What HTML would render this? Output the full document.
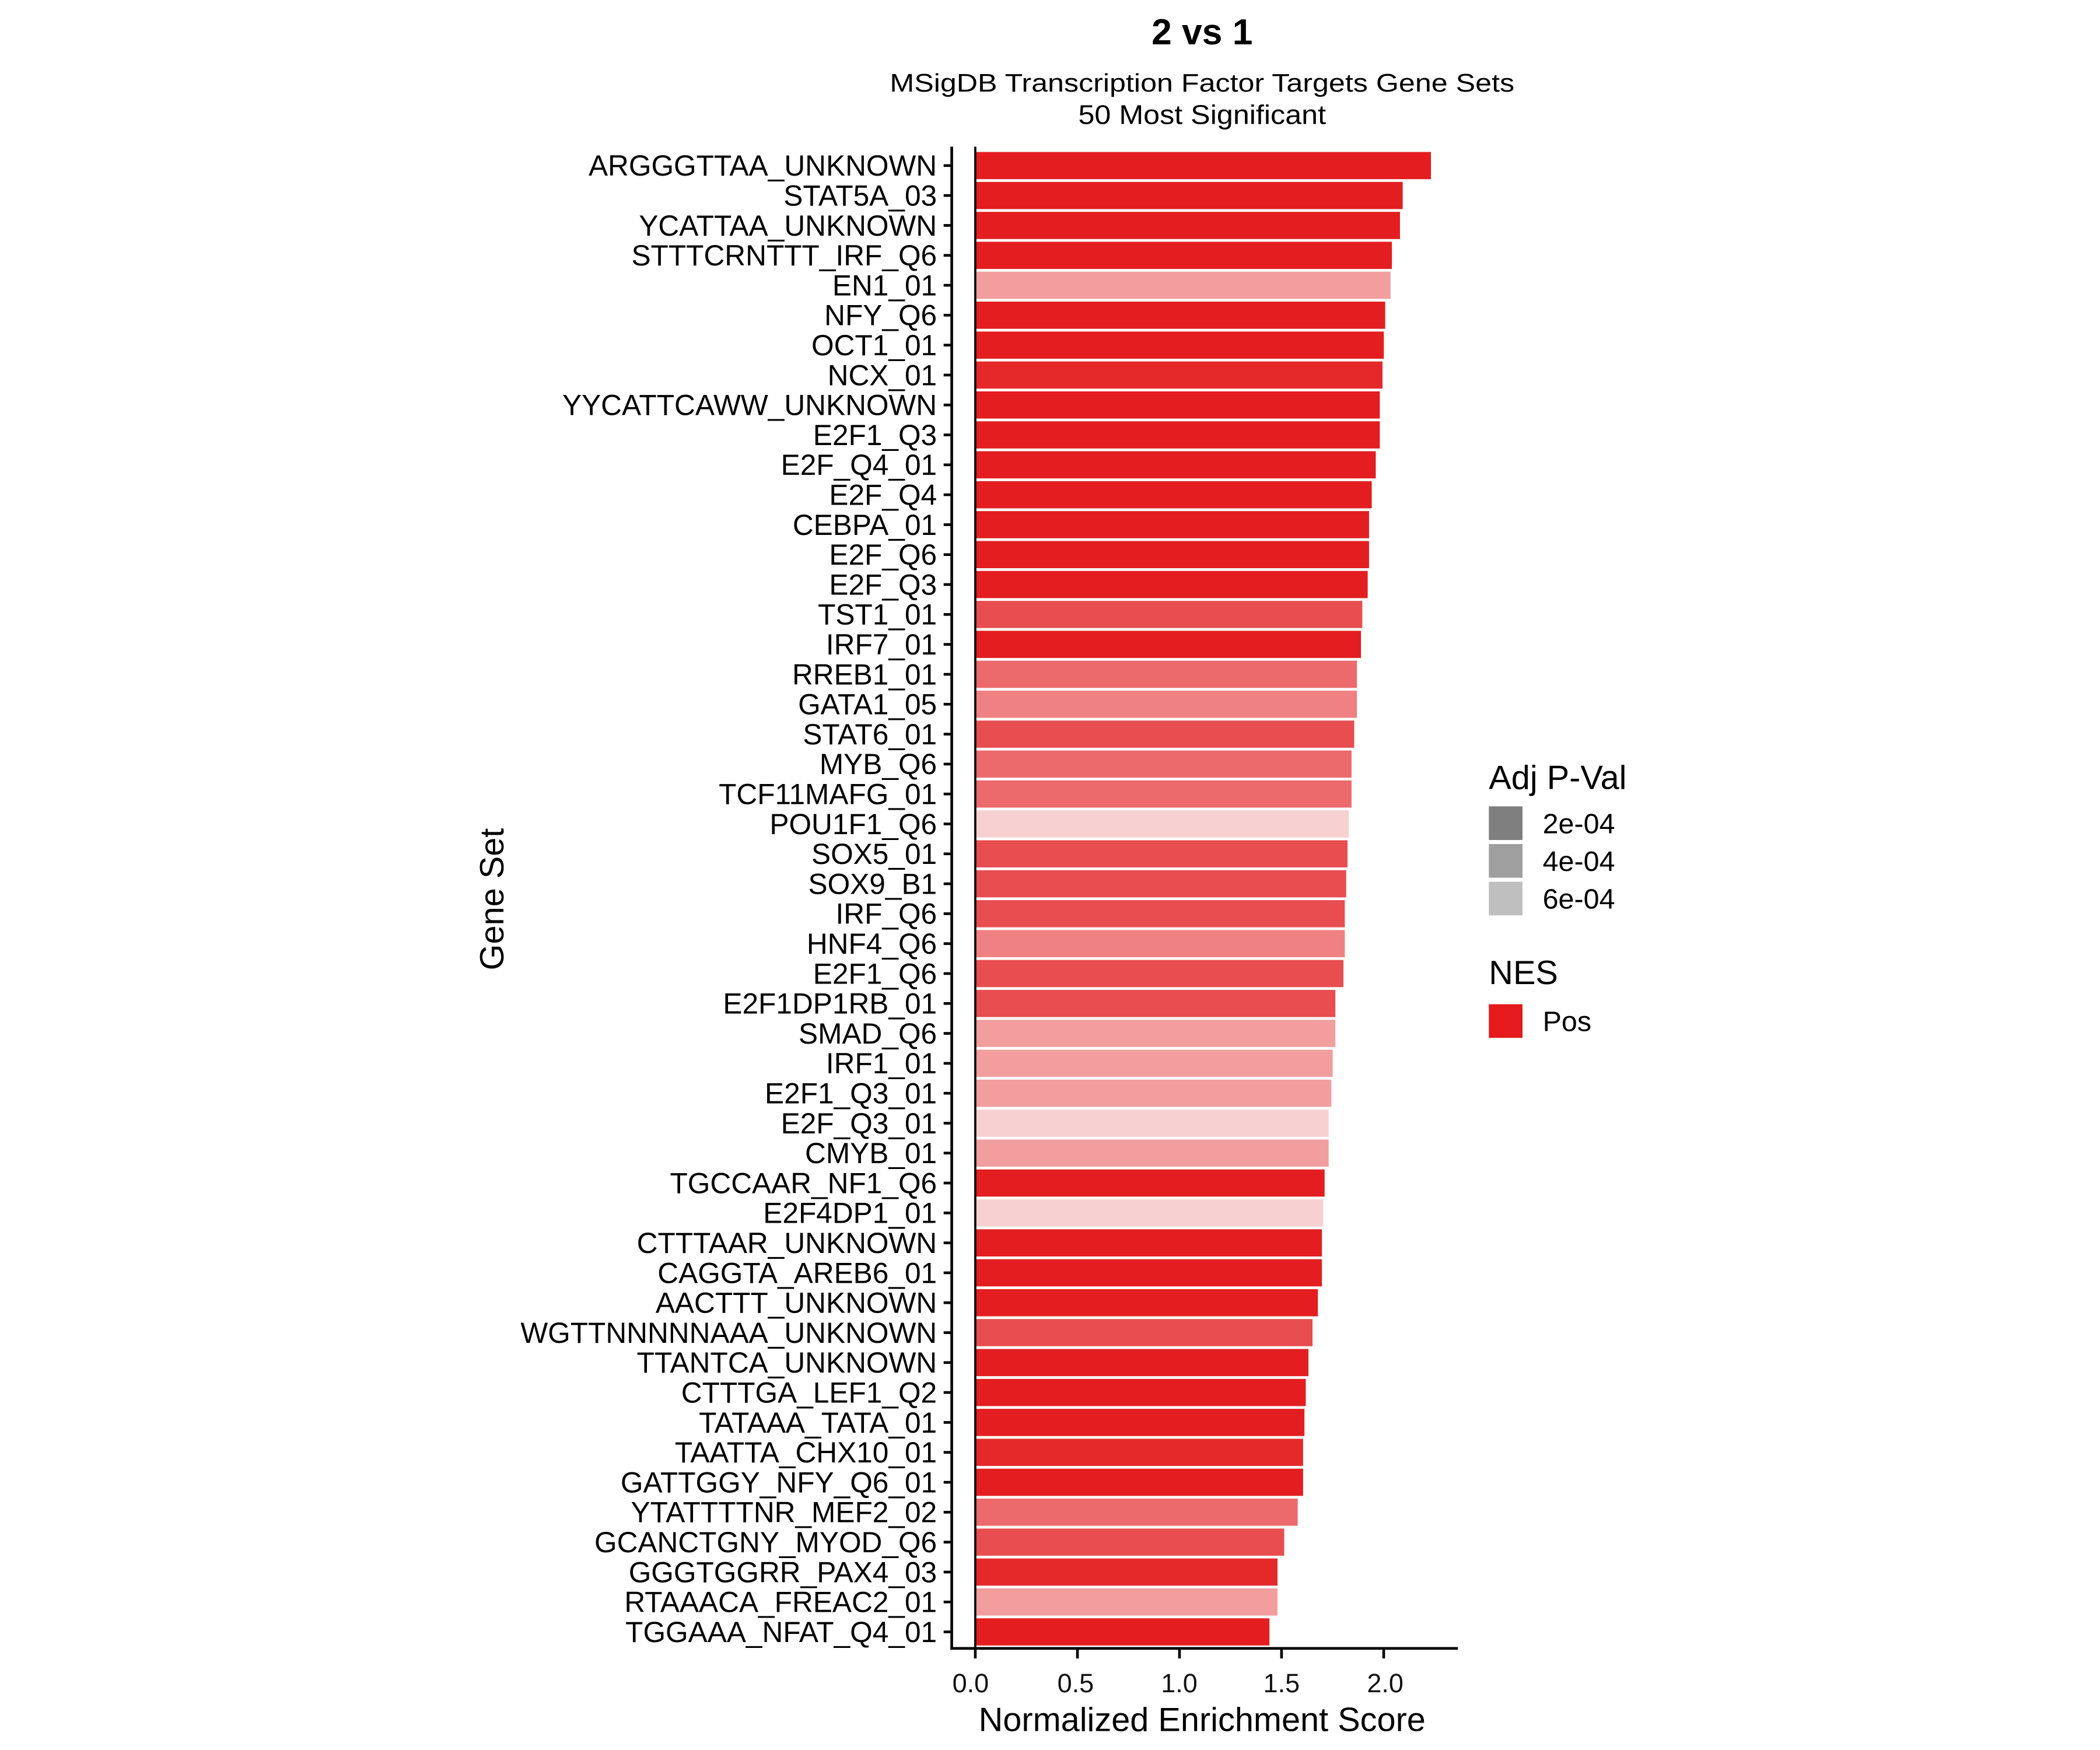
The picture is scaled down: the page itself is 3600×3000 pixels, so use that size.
<!DOCTYPE html>
<html><head><meta charset="utf-8"><style>html,body{margin:0;padding:0;background:#fff}svg{display:block}</style></head>
<body>
<svg xmlns="http://www.w3.org/2000/svg" width="3600" height="3000" viewBox="0 0 1560 1300" font-family="Liberation Sans, Arial, sans-serif">
<rect width="1560" height="1300" fill="#fff"/>
<text x="893" y="33" font-size="27" font-weight="bold" text-anchor="middle">2 vs 1</text>
<text x="893" y="68" font-size="19" text-anchor="middle" textLength="464" lengthAdjust="spacingAndGlyphs">MSigDB Transcription Factor Targets Gene Sets</text>
<text x="893" y="92" font-size="20" text-anchor="middle" textLength="184" lengthAdjust="spacingAndGlyphs">50 Most Significant</text>
<g id="bars"></g>
<line x1="707" y1="109" x2="707" y2="1225" stroke="#000" stroke-width="2"/>
<line x1="706" y1="1224.5" x2="1083" y2="1224.5" stroke="#000" stroke-width="2"/>
<line x1="724.5" y1="109" x2="724.5" y2="1224" stroke="#000" stroke-width="1.6"/>
<g id="lab" font-size="21.5" text-anchor="end"></g>
<g stroke="#000" stroke-width="2">
<line x1="724.5" y1="1225" x2="724.5" y2="1232"/><line x1="800.4" y1="1225" x2="800.4" y2="1232"/><line x1="876.2" y1="1225" x2="876.2" y2="1232"/><line x1="952" y1="1225" x2="952" y2="1232"/><line x1="1027.9" y1="1225" x2="1027.9" y2="1232"/>
</g>
<g font-size="19.5" text-anchor="middle" fill="#111">
<text x="721" y="1257">0.0</text><text x="799" y="1257">0.5</text><text x="876" y="1257">1.0</text><text x="952" y="1257">1.5</text><text x="1029" y="1257">2.0</text>
</g>
<text x="893" y="1286" font-size="25" text-anchor="middle">Normalized Enrichment Score</text>
<text transform="translate(374,668) rotate(-90)" font-size="25" text-anchor="middle">Gene Set</text>
<text x="1106" y="586" font-size="25">Adj P-Val</text>
<rect x="1106" y="599" width="25" height="25" fill="#7f7f7f"/>
<rect x="1106" y="627" width="25" height="25" fill="#9f9f9f"/>
<rect x="1106" y="655" width="25" height="25" fill="#bfbfbf"/>
<text x="1146" y="619" font-size="21">2e-04</text>
<text x="1146" y="647" font-size="21">4e-04</text>
<text x="1146" y="675" font-size="21">6e-04</text>
<text x="1106" y="731" font-size="25">NES</text>
<rect x="1106" y="746" width="25" height="25" fill="#e41a1c"/>
<text x="1146" y="766" font-size="21">Pos</text>
<script>
var d=[["ARGGGTTAA_UNKNOWN",1065,0],["STAT5A_03",1044,0],["YCATTAA_UNKNOWN",1042,0],["STTTCRNTTT_IRF_Q6",1036,0],["EN1_01",1035,5],["NFY_Q6",1031,0],["OCT1_01",1030,0],["NCX_01",1029,1],["YYCATTCAWW_UNKNOWN",1027,0],["E2F1_Q3",1027,0],["E2F_Q4_01",1024,0],["E2F_Q4",1021,0],["CEBPA_01",1019,0],["E2F_Q6",1019,0],["E2F_Q3",1018,0],["TST1_01",1014,2],["IRF7_01",1013,0],["RREB1_01",1010,3],["GATA1_05",1010,4],["STAT6_01",1008,2],["MYB_Q6",1006,3],["TCF11MAFG_01",1006,3],["POU1F1_Q6",1004,6],["SOX5_01",1003,2],["SOX9_B1",1002,2],["IRF_Q6",1001,2],["HNF4_Q6",1001,4],["E2F1_Q6",1000,2],["E2F1DP1RB_01",994,2],["SMAD_Q6",994,5],["IRF1_01",992,5],["E2F1_Q3_01",991,5],["E2F_Q3_01",989,6],["CMYB_01",989,5],["TGCCAAR_NF1_Q6",986,0],["E2F4DP1_01",985,6],["CTTTAAR_UNKNOWN",984,0],["CAGGTA_AREB6_01",984,0],["AACTTT_UNKNOWN",981,0],["WGTTNNNNNAAA_UNKNOWN",977,2],["TTANTCA_UNKNOWN",974,0],["CTTTGA_LEF1_Q2",972,0],["TATAAA_TATA_01",971,0],["TAATTA_CHX10_01",970,1],["GATTGGY_NFY_Q6_01",970,0],["YTATTTTNR_MEF2_02",966,3],["GCANCTGNY_MYOD_Q6",956,2],["GGGTGGRR_PAX4_03",951,1],["RTAAACA_FREAC2_01",951,5],["TGGAAA_NFAT_Q4_01",945,0]];
var c=["#e41e20","#e5292b","#e84e50","#ec6a6b","#ef8182","#f29e9f","#f7d1d2"];
var ns="http://www.w3.org/2000/svg",b=document.getElementById("bars"),l=document.getElementById("lab"),tk=document.querySelector("svg");
d.forEach(function(r,i){var y=123+i*22.23;
var e=document.createElementNS(ns,"rect");e.setAttribute("x",725);e.setAttribute("y",y-10.1);e.setAttribute("width",r[1]-2-725);e.setAttribute("height",20.2);e.setAttribute("fill",c[r[2]]);b.appendChild(e);
var t=document.createElementNS(ns,"text");t.setAttribute("x",696);t.setAttribute("y",y+7.5);t.textContent=r[0];l.appendChild(t);
var k=document.createElementNS(ns,"line");k.setAttribute("x1",701);k.setAttribute("x2",707);k.setAttribute("y1",y);k.setAttribute("y2",y);k.setAttribute("stroke","#000");k.setAttribute("stroke-width",2);tk.appendChild(k);});
</script>
</svg>
</body></html>
